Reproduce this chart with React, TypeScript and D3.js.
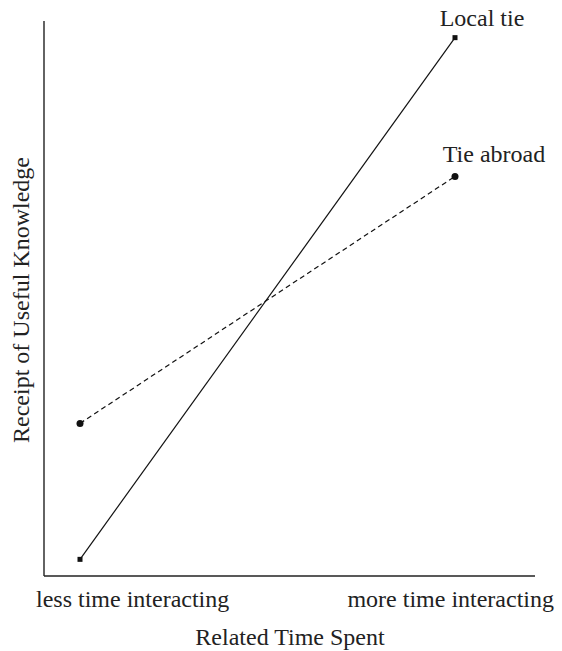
import React, { useEffect, useRef } from "react";
import * as d3 from "d3";

const xLevels = [0, 1];
const tickLabels = ["less time interacting", "more time interacting"];
const localTie = [3, 97];
const tieAbroad = [27.5, 72];
const seriesNames = ["Local tie", "Tie abroad"];
const xTitle = "Related Time Spent";
const yTitle = "Receipt of Useful Knowledge";

const W = 562;
const H = 651;
const font = "'Liberation Serif', 'Times New Roman', serif";

export default function App() {
  const ref = useRef<SVGSVGElement | null>(null);

  useEffect(() => {
    const svg = d3.select(ref.current);
    svg.selectAll("*").remove();

    const x = d3.scaleLinear().domain([0, 1]).range([80, 455]);
    const y = d3.scaleLinear().domain([0, 100]).range([576, 21]);

    // axes (plain lines, no ticks)
    svg.append("line")
      .attr("x1", 44).attr("x2", 44)
      .attr("y1", y(100)).attr("y2", y(0))
      .attr("stroke", "#222").attr("stroke-width", 1.4);
    svg.append("line")
      .attr("x1", 44).attr("x2", 535)
      .attr("y1", y(0)).attr("y2", y(0))
      .attr("stroke", "#222").attr("stroke-width", 1.4);

    const line = d3.line<number>()
      .x((d, i) => x(xLevels[i]))
      .y(d => y(d));

    svg.append("path")
      .attr("d", line(localTie))
      .attr("fill", "none").attr("stroke", "#111").attr("stroke-width", 1.2);
    svg.append("path")
      .attr("d", line(tieAbroad))
      .attr("fill", "none").attr("stroke", "#111").attr("stroke-width", 1.2)
      .attr("stroke-dasharray", "5,3.5");

    svg.selectAll(".sq")
      .data(localTie)
      .enter().append("rect")
      .attr("x", (d, i) => x(xLevels[i]) - 2.5)
      .attr("y", d => y(d) - 2.5)
      .attr("width", 5).attr("height", 5)
      .attr("fill", "#111");

    svg.selectAll(".dot")
      .data(tieAbroad)
      .enter().append("circle")
      .attr("cx", (d, i) => x(xLevels[i]))
      .attr("cy", d => y(d))
      .attr("r", 3.5)
      .attr("fill", "#111");

    const txt = (s: string, tx: number, ty: number, anchor: string) =>
      svg.append("text")
        .text(s)
        .attr("x", tx).attr("y", ty)
        .attr("text-anchor", anchor)
        .attr("font-family", font)
        .attr("font-size", 24)
        .attr("fill", "#222");

    txt(seriesNames[0], 482, y(localTie[1]) - 12, "middle");
    txt(seriesNames[1], 494, y(tieAbroad[1]) - 14, "middle");

    txt(tickLabels[0], 36, 607, "start");
    txt(tickLabels[1], 554, 607, "end");
    txt(xTitle, 290, 645, "middle");

    txt(yTitle, 0, 0, "middle")
      .attr("transform", "translate(29," + 300 + ") rotate(-90)");
  }, []);

  return (
    <svg ref={ref} width={W} height={H}
      style={{ position: "absolute", left: 0, top: 0, background: "#fff" }} />
  );
}
